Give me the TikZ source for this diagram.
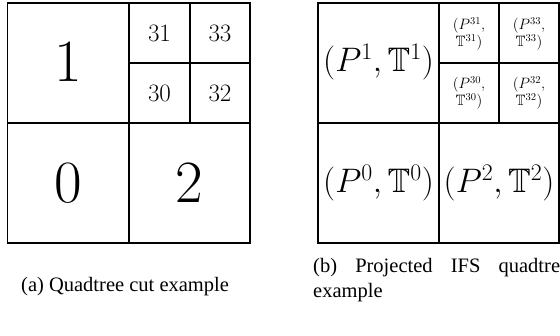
\RequirePackage{fix-cm}
\documentclass[tikz,border=0pt]{standalone}
\usepackage{amsmath,amssymb}
\usepackage[no-math]{fontspec}
\usepackage{tikz}
\newfontfamily\capfont{Liberation Serif}

\begin{document}
\begin{tikzpicture}[x=1pt,y=-1pt, every node/.style={inner sep=0pt}, cell/.style={draw,line width=1.4pt}, huge/.style={font=\fontsize{60}{60}\selectfont}, mid/.style={font=\fontsize{25}{25}\selectfont}, pair/.style={font=\fontsize{34}{34}\selectfont}, tiny/.style={font=\fontsize{15}{15}\selectfont,align=center}, caption/.style={font=\capfont\fontsize{20.5}{25}\selectfont,anchor=base west,align=left}]
\useasboundingbox (0,0) rectangle (560,335);
% (a) quadtree cut
\draw[cell] (7.5,3) rectangle (250,243);
\draw[cell] (129,3)--(129,243);\draw[cell] (7.5,123)--(250,123);
\draw[cell] (190,3)--(190,123);\draw[cell] (129,63)--(250,63);
\node[huge] (q1) at (68,62) {$1$};
\node[huge] (q0) at (68,183) {$0$};
\node[huge] (q2) at (189.5,183) {$2$};
\node[mid] (q31) at (159.5,33) {$31$};
\node[mid] (q33) at (220,33) {$33$};
\node[mid] (q30) at (159.5,93) {$30$};
\node[mid] (q32) at (220,93) {$32$};
\node[caption] (capa) at (21,291) {(a) Quadtree cut example};
% (b) projected IFS quadtree
\draw[cell] (318,3) rectangle (559,243);
\draw[cell] (439,3)--(439,243);\draw[cell] (318,123)--(559,123);
\draw[cell] (499,3)--(499,123);\draw[cell] (439,63)--(559,63);
\node[pair] (p1) at (378.5,62) {$(P^1,\mathbb{T}^1)$};
\node[pair] (p0) at (378.5,183) {$(P^0,\mathbb{T}^0)$};
\node[pair] (p2) at (499,183) {$(P^2,\mathbb{T}^2)$};
\node[tiny] (p31) at (469,34) {$(P^{31},$\\$\mathbb{T}^{31})$};
\node[tiny] (p33) at (529,34) {$(P^{33},$\\$\mathbb{T}^{33})$};
\node[tiny] (p30) at (469,93) {$(P^{30},$\\$\mathbb{T}^{30})$};
\node[tiny] (p32) at (529,93) {$(P^{32},$\\$\mathbb{T}^{32})$};
\node[caption] (capb) at (313,297) {\makebox[256pt][s]{(b) Projected IFS quadtree}\\example};
\end{tikzpicture}
\end{document}
